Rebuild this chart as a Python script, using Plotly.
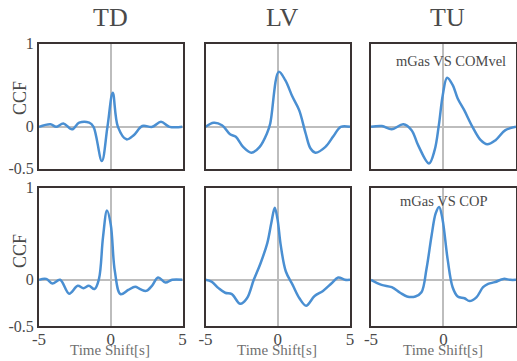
import plotly.graph_objects as go

# ---- data ----
col_titles = ["TD", "LV", "TU"]
panel_notes = ["mGas VS COMvel", "mGas VS COP"]
y_tick_vals = [-0.5, 0, 1]
y_tick_text = ["-0.5", "0", "1"]
x_tick_vals = [-5, 0, 5]
x_tick_text = ["-5", "0", "5"]

# Row 1 (mGas VS COMvel)
td1_t = [-5, -4.2, -3.8, -3.3, -2.7, -2.2, -1.5, -1.2, -0.62, -0.23, 0.14, 0.5, 1.1, 1.6, 2.2, 2.9, 3.5, 4.1, 5]
td1_v = [0, 0.03, 0, 0.04, -0.03, 0.05, 0.05, 0, -0.41, 0, 0.41, 0, -0.15, -0.1, 0.01, 0, 0.06, 0, 0]

lv1_t = [-5, -4.43, -3.86, -3.3, -2.9, -2.4, -1.82, -1.25, -0.75, -0.52, 0.07, 0.52, 1.02, 1.48, 1.93, 2.27, 2.61, 3.3, 3.86, 4.36, 5]
lv1_v = [0, 0.05, 0.02, -0.09, -0.12, -0.24, -0.31, -0.24, -0.08, 0.04, 0.66, 0.56, 0.36, 0.2, -0.08, -0.26, -0.31, -0.24, -0.11, 0, 0]

tu1_t = [-5, -4.25, -3.57, -2.77, -2.2, -1.75, -1.0, -0.61, -0.32, -0.05, 0.25, 0.64, 0.98, 1.43, 2.0, 2.57, 3.02, 3.59, 4.27, 5]
tu1_v = [0, 0.01, -0.03, 0.03, -0.04, -0.22, -0.44, -0.28, 0.02, 0.38, 0.59, 0.5, 0.34, 0.2, 0, -0.16, -0.21, -0.16, -0.04, 0]

# Row 2 (mGas VS COP)
td2_t = [-5, -4.5, -4.07, -3.53, -2.9, -2.3, -1.9, -1.53, -1.13, -0.82, -0.54, -0.26, 0, 0.28, 0.68, 1.22, 1.7, 2.05, 2.47, 2.87, 3.3, 3.81, 4.28, 5]
td2_v = [0, 0.01, -0.04, 0, -0.15, -0.065, -0.09, -0.065, -0.1, 0.01, 0.46, 0.75, 0.6, 0.1, -0.155, -0.11, -0.075, -0.1, -0.12, -0.065, 0.025, -0.03, 0, 0]

lv2_t = [-5, -4.58, -4.1, -3.64, -3.18, -2.6, -2.13, -1.66, -1.19, -0.72, -0.44, -0.21, -0.02, 0.21, 0.56, 1.03, 1.5, 1.96, 2.55, 3.13, 3.71, 4.18, 4.65, 5]
lv2_v = [0, -0.02, -0.09, -0.14, -0.155, -0.26, -0.2, 0, 0.18, 0.4, 0.62, 0.78, 0.66, 0.37, 0.09, -0.055, -0.2, -0.28, -0.175, -0.12, -0.04, 0.025, 0, 0]

tu2_t = [-5, -4.27, -3.57, -2.99, -2.52, -1.94, -1.52, -1.17, -0.82, -0.54, -0.3, -0.07, 0.28, 0.63, 0.98, 1.45, 1.8, 2.27, 2.73, 3.08, 3.55, 4.14, 4.6, 5]
tu2_v = [0, -0.055, -0.08, -0.14, -0.18, -0.18, -0.135, 0.12, 0.48, 0.72, 0.79, 0.66, 0.23, -0.08, -0.18, -0.2, -0.23, -0.19, -0.08, -0.045, -0.025, 0.01, 0, 0]

series = [[(td1_t, td1_v), (lv1_t, lv1_v), (tu1_t, tu1_v)],
          [(td2_t, td2_v), (lv2_t, lv2_v), (tu2_t, tu2_v)]]

# ---- layout geometry ----
W, H = 517, 361
col_dom = [[0.0754, 0.353], [0.3975, 0.677], [0.7176, 0.998]]
row_dom = [[0.5332, 0.8795], [0.097, 0.4806]]

FONT = "Liberation Serif"
TXT = "#4a4a4a"
BORDER = "#3a3333"
ZERO = "#bdbdbd"
BLUE = "#4a8fd2"

fig = go.Figure()
n = 0
for r in range(2):
    for c in range(3):
        n += 1
        xa = "x" if n == 1 else f"x{n}"
        ya = "y" if n == 1 else f"y{n}"
        t, v = series[r][c]
        fig.add_trace(go.Scatter(x=t, y=v, mode="lines", xaxis=xa, yaxis=ya,
                                 line=dict(color=BLUE, width=2.5, shape="spline", smoothing=1.0),
                                 showlegend=False, hoverinfo="skip", cliponaxis=True))
        key_x = "xaxis" if n == 1 else f"xaxis{n}"
        key_y = "yaxis" if n == 1 else f"yaxis{n}"
        fig.layout[key_x] = dict(domain=col_dom[c], anchor=ya, range=[-5, 5], automargin=False,
                                 showgrid=False, zeroline=True, zerolinecolor=ZERO, zerolinewidth=2,
                                 showline=True, mirror=True, linecolor=BORDER, linewidth=2,
                                 ticks="", tickvals=x_tick_vals, ticktext=x_tick_text,
                                 showticklabels=(r == 1), ticklabelstandoff=-3,
                                 tickfont=dict(family=FONT, size=17, color=TXT))
        fig.layout[key_y] = dict(domain=row_dom[r], anchor=xa, range=[-0.5, 1], automargin=False,
                                 showgrid=False, zeroline=True, zerolinecolor=ZERO, zerolinewidth=2,
                                 showline=True, mirror=True, linecolor=BORDER, linewidth=2,
                                 ticks="", tickvals=y_tick_vals, ticktext=y_tick_text,
                                 showticklabels=(c == 0), ticklabelstandoff=0,
                                 tickfont=dict(family=FONT, size=16, color=TXT))

annotations = []
title_x = [110, 282, 447]
for c, name in enumerate(col_titles):
    annotations.append(dict(text=name, x=title_x[c] / W, y=1 - 18 / H, xref="paper", yref="paper",
                            showarrow=False, xanchor="center", yanchor="middle",
                            font=dict(family=FONT, size=26, color=TXT)))
# CCF labels
for yc in [98, 251]:
    annotations.append(dict(text="CCF", x=20 / W, y=1 - yc / H, xref="paper", yref="paper",
                            showarrow=False, textangle=-90, xanchor="center", yanchor="middle",
                            font=dict(family=FONT, size=18, color=TXT)))
# Time Shift labels
for xc in [110, 277, 443]:
    annotations.append(dict(text="Time Shift[s]", x=xc / W, y=1 - 350 / H, xref="paper", yref="paper",
                            showarrow=False, xanchor="center", yanchor="middle",
                            font=dict(family=FONT, size=15, color="#707070")))
# panel notes
annotations.append(dict(text=panel_notes[0], x=451 / W, y=1 - 61 / H, xref="paper", yref="paper",
                        showarrow=False, xanchor="center", yanchor="middle",
                        font=dict(family=FONT, size=14.5, color=TXT)))
annotations.append(dict(text=panel_notes[1], x=444 / W, y=1 - 201 / H, xref="paper", yref="paper",
                        showarrow=False, xanchor="center", yanchor="middle",
                        font=dict(family=FONT, size=14.5, color=TXT)))

fig.update_layout(width=W, height=H, margin=dict(l=0, r=0, t=0, b=0, pad=0, autoexpand=False),
                  paper_bgcolor="white", plot_bgcolor="white",
                  annotations=annotations)

fig.write_html("out.html", config={"displayModeBar": False, "staticPlot": True},
               post_script="document.body.style.margin='0';document.body.style.padding='0';")
